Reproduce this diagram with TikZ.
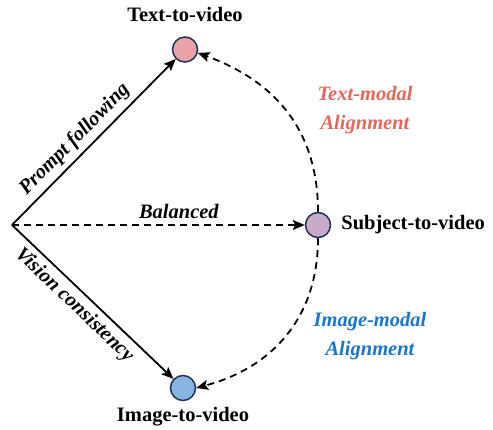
\documentclass[tikz,border=0pt]{standalone}
\usepackage{fontspec}
\setmainfont{Liberation Serif}[BoldFont = {Liberation Serif Bold}, BoldItalicFont = {Liberation Serif Bold Italic}, ItalicFont = {Liberation Serif Italic}]
\usetikzlibrary{arrows.meta, positioning}
\definecolor{borderColor}{RGB}{31,50,86}
\definecolor{textColor}{RGB}{232,162,168}
\definecolor{subjectColor}{RGB}{201,170,203}
\definecolor{imageColor}{RGB}{135,180,226}
\definecolor{textModalColor}{RGB}{224,104,92}
\definecolor{imageModalColor}{RGB}{24,118,204}
\tikzstyle{canvas} = [x = 1pt, y = -1pt, font=\rmfamily\fontsize{20.5}{25}\selectfont\bfseries]
\tikzstyle{modelStyle} = [circle, draw=borderColor, line width=1.5pt, minimum size=25pt, inner sep=0pt]
\tikzstyle{modelName} = [inner sep=0pt]
\tikzstyle{solidFlow} = [line width=1.8pt, -{Stealth[length=12pt, width=10pt, inset=2.5pt]}]
\tikzstyle{dashedFlow} = [solidFlow, dash pattern=on 7pt off 5pt]
\tikzstyle{flowText} = [inner sep=5pt, font=\rmfamily\fontsize{20.5}{25}\selectfont\bfseries\itshape]
\tikzstyle{alignText} = [align=center, font=\rmfamily\fontsize{20.5}{29}\selectfont\bfseries\itshape]
\newcommand{\model}[4]{\node [modelStyle, fill=#4] (#1) at (#2,#3) {};}

\begin{document}
\begin{tikzpicture}[canvas]
        \useasboundingbox (0,0) rectangle (493,430);
        \coordinate (o) at (12,225);
        \model{t}{185}{49.5}{textColor}
        \model{s}{318}{225}{subjectColor}
        \model{i}{183}{388}{imageColor}

        \node [modelName, above = 14pt of t] (tName) {Text-to-video};
        \node [modelName, right = 10pt of s] (sName) {Subject-to-video};
        \node [modelName, below = 6pt of i] (iName) {Image-to-video};

        \draw [solidFlow] (o) -- (t) node [flowText, pos = .45, sloped, above] {Prompt following};
        \draw [solidFlow] (o) -- (i) node [flowText, pos = .45, sloped, below] {Vision consistency};
        \draw [dashedFlow] (o) -- (s) node [flowText, pos = .57, above] {Balanced};

        \draw [dashedFlow] (s.north) to [out = 90, in = -20, looseness = 1.05] (t.-15);
        \draw [dashedFlow] (s.south) to [out = -90, in = 15, looseness = 1.05] (i.east);

        \node [alignText, textModalColor] (textModal) at (365,110) {Text-modal\\Alignment};
        \node [alignText, imageModalColor] (imageModal) at (370,336) {Image-modal\\Alignment};
      \end{tikzpicture}
\end{document}
